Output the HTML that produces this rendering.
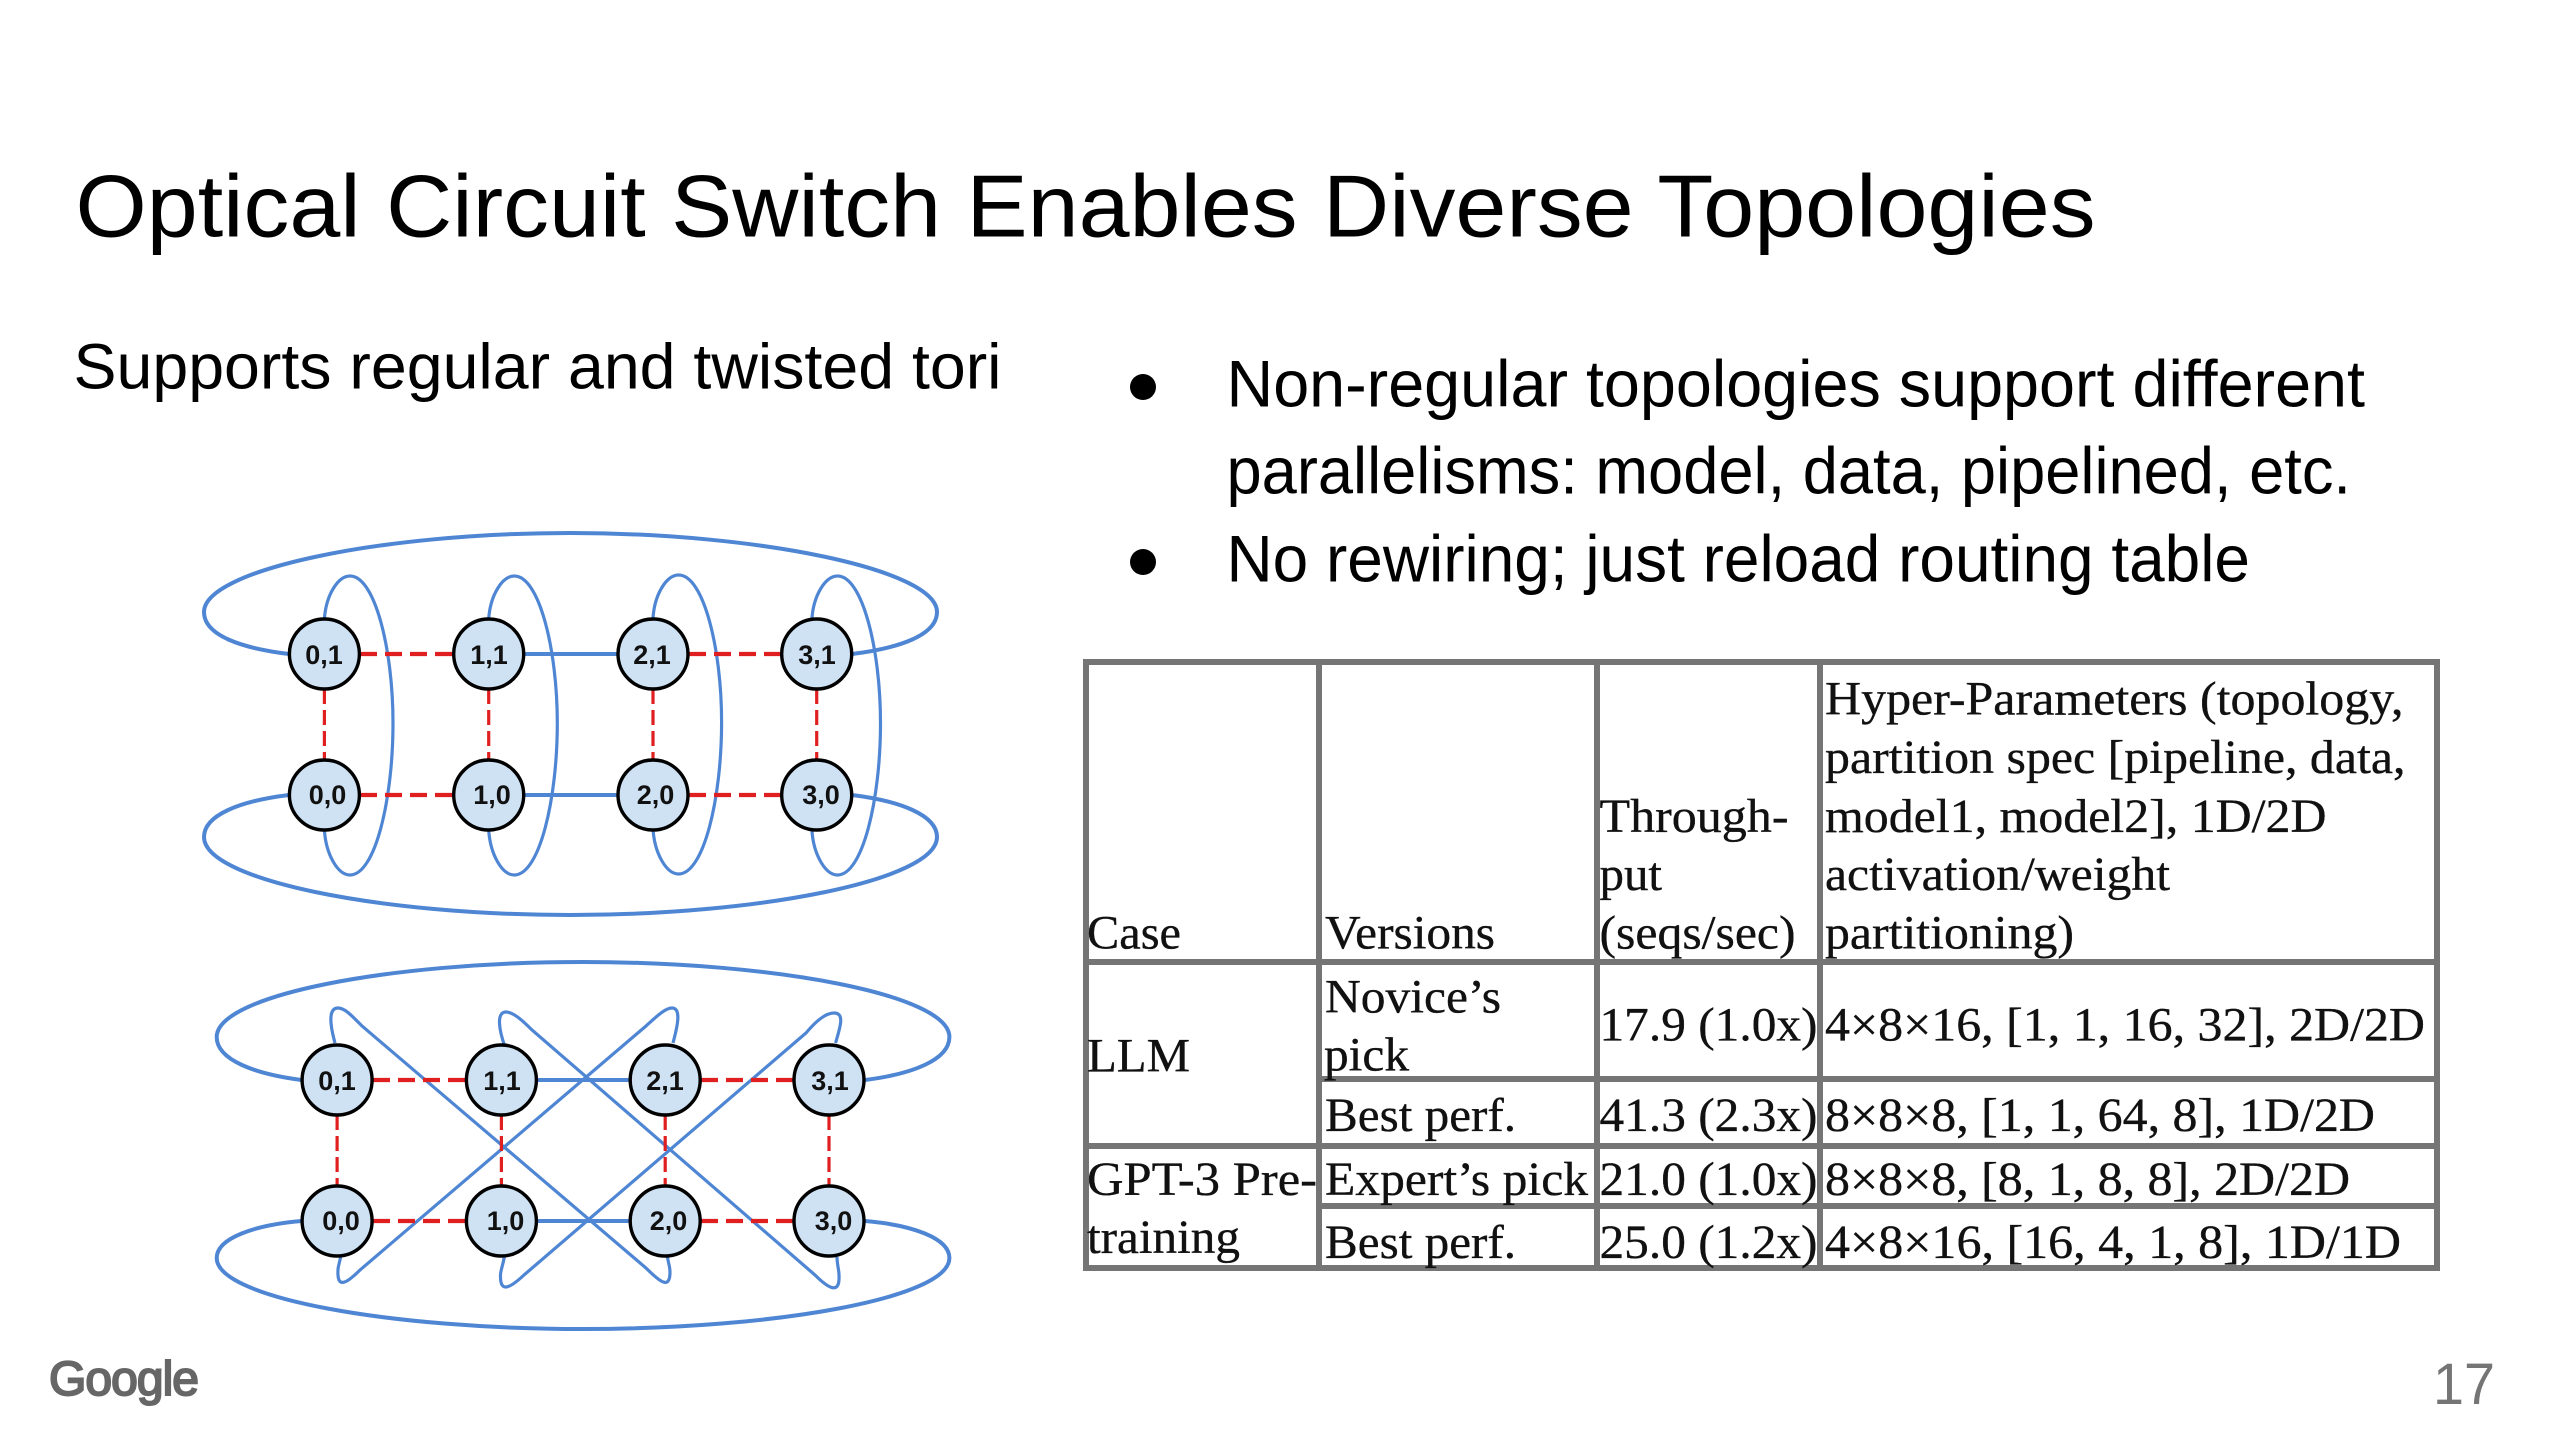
<!DOCTYPE html>
<html><head><meta charset="utf-8"><style>
html,body{margin:0;padding:0;background:#fff;width:2560px;height:1440px;overflow:hidden}
svg{display:block}
.h{font-family:"Liberation Sans",sans-serif;fill:#000}
.t{font-family:"Liberation Serif",serif;font-size:48px;fill:#111;stroke:#111;stroke-width:.35}
.n{font-family:"Liberation Sans",sans-serif;font-size:27px;font-weight:bold;fill:#111;text-anchor:middle}
.b{fill:none;stroke:#4f86d4;stroke-width:3.2}
.B{fill:none;stroke:#4f86d4;stroke-width:4}
.r{stroke:#e02020;stroke-width:4.2;stroke-dasharray:17 8;fill:none}
.v{stroke:#e02020;stroke-width:3.2;stroke-dasharray:15 6;fill:none}
.c{fill:#cfe2f3;stroke:#000;stroke-width:3.4}
.g{stroke:#757575;stroke-width:6;fill:none}
</style></head><body>
<svg width="2560" height="1440" viewBox="0 0 2560 1440" xmlns="http://www.w3.org/2000/svg">
<rect width="2560" height="1440" fill="#fff"/>
<g transform="translate(-1.5 -1.5)">
<text class="h" x="77" y="238" font-size="88" textLength="2020" lengthAdjust="spacingAndGlyphs">Optical Circuit Switch Enables Diverse Topologies</text>
<text class="h" x="75" y="390" font-size="64" textLength="928" lengthAdjust="spacingAndGlyphs">Supports regular and twisted tori</text>
<text class="h" x="1228" y="408" font-size="66" textLength="1138.5" lengthAdjust="spacingAndGlyphs">Non-regular topologies support different</text>
<text class="h" x="1228" y="495" font-size="66" textLength="1124.5" lengthAdjust="spacingAndGlyphs">parallelisms: model, data, pipelined, etc.</text>
<text class="h" x="1228" y="583" font-size="66" textLength="1023.5" lengthAdjust="spacingAndGlyphs">No rewiring; just reload routing table</text>
</g>
<circle cx="1143" cy="387" r="13" fill="#000"/><circle cx="1143" cy="562" r="13" fill="#000"/>

<!-- Diagram 1 -->
<g>
<path class="B" d="M289 654C240 648 204 635 204 612C204 570 380 533 570 533C760 533 937 570 937 612C937 635 900 648 852 654"/>
<path class="B" d="M289 795C240 801 204 815 204 837C204 880 380 915 570 915C760 915 937 880 937 837C937 815 900 801 852 795"/>
<path class="b" d="M324.4 619C326 595 338 576 350 576C375 576 393 650 393 723C393 800 375 875 350 875C338 875 326 855 324.4 830"/>
<path class="b" transform="translate(164.3 0)" d="M324.4 619C326 595 338 576 350 576C375 576 393 650 393 723C393 800 375 875 350 875C338 875 326 855 324.4 830"/>
<path class="b" transform="translate(328.6 -1)" d="M324.4 619C326 595 338 576 350 576C375 576 393 650 393 723C393 800 375 875 350 875C338 875 326 855 324.4 830"/>
<path class="b" transform="translate(487.5 0)" d="M324.4 619C326 595 338 576 350 576C375 576 393 650 393 723C393 800 375 875 350 875C338 875 326 855 324.4 830"/>
<path class="B" d="M524 654H617M524 795H617"/>
<path class="r" d="M360 654H453M689 654H781M360 795H453M689 795H781"/>
<path class="v" d="M324.4 689V760M488.7 689V760M653 689V760M816.7 689V760"/>
<circle class="c" cx="324.4" cy="654" r="35"/><circle class="c" cx="488.7" cy="654" r="35"/><circle class="c" cx="653" cy="654" r="35"/><circle class="c" cx="816.7" cy="654" r="35"/>
<circle class="c" cx="324.4" cy="795" r="35"/><circle class="c" cx="488.7" cy="795" r="35"/><circle class="c" cx="653" cy="795" r="35"/><circle class="c" cx="816.7" cy="795" r="35"/>
<text class="n" x="324" y="664">0,1</text><text class="n" x="489" y="664">1,1</text><text class="n" x="652" y="664">2,1</text><text class="n" x="817" y="664">3,1</text>
<text class="n" x="327.5" y="804">0,0</text><text class="n" x="492" y="804">1,0</text><text class="n" x="655.5" y="804">2,0</text><text class="n" x="821" y="804">3,0</text>
</g>

<!-- Diagram 2 -->
<g>
<path class="B" d="M301.4 1080C255 1074 216.7 1060 216.7 1037C216.7 995 390 962 583 962C776 962 949.4 995 949.4 1037C949.4 1060 912 1074 865.2 1080"/>
<path class="B" d="M301.4 1221C255 1225 216.7 1238 216.7 1258C216.7 1298 390 1329 583 1329C776 1329 949.4 1298 949.4 1258C949.4 1238 912 1225 865.2 1221"/>
<path class="b" d="M335 1043C330 1025 328 1008 338 1008C345 1008 352 1016 362 1026L646 1268C660 1282 670 1290 670 1272C670 1265 667 1260 667 1252"/>
<path class="b" d="M505 1047C499 1030 496 1012 506 1012C513 1012 522 1020 532 1030L815 1275C830 1290 840 1294 839 1275C839 1270 837 1264 837 1257"/>
<path class="b" d="M673 1043C677 1028 682 1008 672 1008C665 1008 656 1017 646 1026L360 1270C345 1285 337 1288 338 1270C338 1265 341 1260 341 1252"/>
<path class="b" d="M835.6 1043C839 1030 846 1013 834 1013C826 1013 816 1021 806 1033L524 1275C508 1290 500 1292 500.5 1275C500.5 1270 504 1262 504.5 1255"/>
<path class="B" d="M537 1080H630M537 1221H630"/>
<path class="r" d="M373 1080H466M701 1080H793M373 1221H466M701 1221H793"/>
<path class="v" d="M337.1 1115V1186M501.4 1115V1186M665.2 1115V1186M829 1115V1186"/>
<circle class="c" cx="337.1" cy="1080" r="35"/><circle class="c" cx="501.4" cy="1080" r="35"/><circle class="c" cx="665.2" cy="1080" r="35"/><circle class="c" cx="829" cy="1080" r="35"/>
<circle class="c" cx="337.1" cy="1221" r="35"/><circle class="c" cx="501.4" cy="1221" r="35"/><circle class="c" cx="665.2" cy="1221" r="35"/><circle class="c" cx="829" cy="1221" r="35"/>
<text class="n" x="337" y="1090">0,1</text><text class="n" x="502" y="1090">1,1</text><text class="n" x="665" y="1090">2,1</text><text class="n" x="830" y="1090">3,1</text>
<text class="n" x="341" y="1230">0,0</text><text class="n" x="505.5" y="1230">1,0</text><text class="n" x="668.5" y="1230">2,0</text><text class="n" x="833.5" y="1230">3,0</text>
</g>

<!-- Table -->
<rect class="g" x="1086" y="662" width="1351" height="606"/>
<path class="g" d="M1319 662V1268M1597 662V1268M1820 662V1268M1086 962H2437M1319 1079H2437M1086 1146H2437M1319 1206H2437"/>
<g class="t" transform="translate(-1.5 0)">
<text x="1088.5" y="948.5" textLength="94" lengthAdjust="spacingAndGlyphs">Case</text>
<text x="1326.5" y="948.5" textLength="170" lengthAdjust="spacingAndGlyphs">Versions</text>
<text x="1601" y="832" textLength="189" lengthAdjust="spacingAndGlyphs">Through-</text>
<text x="1601" y="890" textLength="62.5" lengthAdjust="spacingAndGlyphs">put</text>
<text x="1601" y="948.5" textLength="196" lengthAdjust="spacingAndGlyphs">(seqs/sec)</text>
<text x="1826.5" y="714.5" textLength="578.5" lengthAdjust="spacingAndGlyphs">Hyper-Parameters (topology,</text>
<text x="1826.5" y="773" textLength="580.5" lengthAdjust="spacingAndGlyphs">partition spec [pipeline, data,</text>
<text x="1826.5" y="832" textLength="501.5" lengthAdjust="spacingAndGlyphs">model1, model2], 1D/2D</text>
<text x="1826.5" y="890" textLength="345" lengthAdjust="spacingAndGlyphs">activation/weight</text>
<text x="1826.5" y="948.5" textLength="249" lengthAdjust="spacingAndGlyphs">partitioning)</text>
<text x="1088.5" y="1071.5" textLength="103" lengthAdjust="spacingAndGlyphs">LLM</text>
<text x="1326.5" y="1012.5" textLength="176" lengthAdjust="spacingAndGlyphs">Novice’s</text>
<text x="1325.5" y="1070.5" textLength="85" lengthAdjust="spacingAndGlyphs">pick</text>
<text x="1601" y="1040.5" textLength="218" lengthAdjust="spacingAndGlyphs">17.9 (1.0x)</text>
<text x="1826.5" y="1040.5" textLength="600" lengthAdjust="spacingAndGlyphs">4×8×16, [1, 1, 16, 32], 2D/2D</text>
<text x="1326.5" y="1131" textLength="191" lengthAdjust="spacingAndGlyphs">Best perf.</text>
<text x="1601" y="1131" textLength="218" lengthAdjust="spacingAndGlyphs">41.3 (2.3x)</text>
<text x="1826.5" y="1131" textLength="550" lengthAdjust="spacingAndGlyphs">8×8×8, [1, 1, 64, 8], 1D/2D</text>
<text x="1088.5" y="1195" textLength="230" lengthAdjust="spacingAndGlyphs">GPT-3 Pre-</text>
<text x="1326.5" y="1195" textLength="263" lengthAdjust="spacingAndGlyphs">Expert’s pick</text>
<text x="1601" y="1195" textLength="218" lengthAdjust="spacingAndGlyphs">21.0 (1.0x)</text>
<text x="1826.5" y="1195" textLength="525" lengthAdjust="spacingAndGlyphs">8×8×8, [8, 1, 8, 8], 2D/2D</text>
<text x="1088.5" y="1253" textLength="153" lengthAdjust="spacingAndGlyphs">training</text>
<text x="1326.5" y="1258" textLength="191" lengthAdjust="spacingAndGlyphs">Best perf.</text>
<text x="1601" y="1258" textLength="218" lengthAdjust="spacingAndGlyphs">25.0 (1.2x)</text>
<text x="1826.5" y="1258" textLength="576" lengthAdjust="spacingAndGlyphs">4×8×16, [16, 4, 1, 8], 1D/1D</text>
</g>

<text x="49" y="1395" font-family="Liberation Sans, sans-serif" font-size="48" fill="#666" stroke="#666" stroke-width="2" textLength="150" lengthAdjust="spacing">Google</text>
<text x="2433" y="1404" font-family="Liberation Sans, sans-serif" font-size="58" fill="#757575" textLength="62" lengthAdjust="spacingAndGlyphs">17</text>
</svg>
</body></html>
